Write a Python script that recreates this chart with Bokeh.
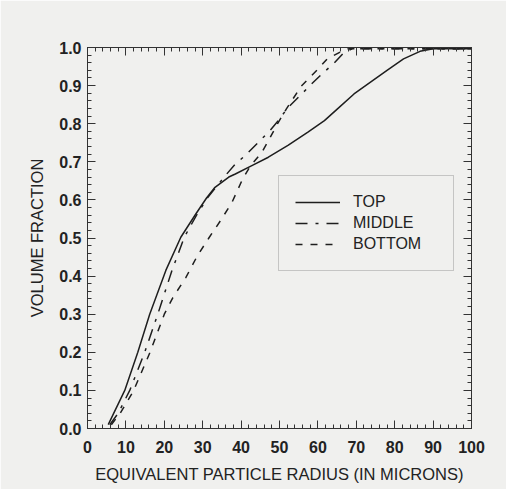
from bokeh.plotting import figure
from bokeh.models import (Range1d, LinearAxis, SingleIntervalTicker, PrintfTickFormatter,
                          CustomJSTickFormatter, Legend, LegendItem)
from bokeh.embed import file_html
from bokeh.resources import INLINE

# ---- data ----
top_x = [5.4, 9.7, 13.1, 16.2, 20.4, 24.3, 28.2, 31.0, 33.2, 36.8, 38.5, 42.8, 47.1,
         52.2, 57.4, 61.7, 65.1, 69.4, 73.7, 78.0, 82.3, 86.6, 90.0, 100.0]
top_y = [0.01, 0.10, 0.20, 0.30, 0.415, 0.502, 0.563, 0.605, 0.633, 0.66, 0.668, 0.69,
         0.712, 0.743, 0.778, 0.808, 0.839, 0.878, 0.909, 0.94, 0.97, 0.99, 0.997, 0.997]

mid_x = [5.8, 8.0, 11.0, 14.9, 18.3, 22.0, 25.2, 28.4, 31.2, 34.0, 36.0, 38.5, 41.0,
         44.5, 47.5, 50.0, 52.0, 55.7, 57.8, 61.0, 64.3, 66.8, 69.0, 100.0]
mid_y = [0.01, 0.04, 0.10, 0.20, 0.30, 0.415, 0.502, 0.56, 0.605, 0.64, 0.665, 0.694,
         0.716, 0.751, 0.782, 0.812, 0.84, 0.877, 0.899, 0.93, 0.96, 0.987, 0.997, 0.997]

bot_x = [6.2, 8.5, 11.9, 16.2, 20.0, 22.2, 25.6, 28.6, 31.6, 34.6, 37.6, 40.4, 42.5,
         45.4, 47.1, 49.5, 51.8, 55.7, 60.0, 62.5, 66.4, 68.0, 100.0]
bot_y = [0.01, 0.04, 0.097, 0.198, 0.30, 0.343, 0.396, 0.453, 0.50, 0.545, 0.593, 0.655,
         0.69, 0.725, 0.755, 0.80, 0.839, 0.899, 0.943, 0.971, 0.991, 0.997, 0.997]

series_labels = ["TOP", "MIDDLE", "BOTTOM"]
x_label = "EQUIVALENT PARTICLE RADIUS (IN MICRONS)"
y_label = "VOLUME FRACTION"

BG = "#f0f0ee"
INK = "#1e1e1e"
FONT = "Liberation Sans"

p = figure(width=506, height=489, output_backend="svg", toolbar_location=None,
           x_range=Range1d(0, 100), y_range=Range1d(0, 1.0),
           min_border_left=87, min_border_right=35, min_border_top=47, min_border_bottom=61,
           background_fill_color=BG, border_fill_color=BG)
p.grid.visible = False
p.outline_line_color = "#333333"
p.outline_line_width = 1

r_top = p.line(top_x, top_y, line_color=INK, line_width=1.5)
r_mid = p.line(mid_x, mid_y, line_color=INK, line_width=1.5, line_dash="12 8 3 8")
r_bot = p.line(bot_x, bot_y, line_color=INK, line_width=1.5, line_dash="7 8")

def style_axis(ax, labels=True):
    ax.axis_line_color = "#333333"
    ax.major_tick_in = 8
    ax.major_tick_out = 0
    ax.minor_tick_in = 4
    ax.minor_tick_out = 0
    ax.major_tick_line_color = "#333333"
    ax.minor_tick_line_color = "#333333"
    if labels:
        ax.major_label_text_font = FONT
        ax.major_label_text_font_style = "bold"
        ax.major_label_text_font_size = "16px"
        ax.major_label_text_color = "#222222"
        ax.axis_label_text_font = FONT
        ax.axis_label_text_font_style = "normal"
        ax.axis_label_text_font_size = "16.5px"
        ax.axis_label_text_color = "#222222"
    else:
        ax.formatter = CustomJSTickFormatter(code="return '';")
        ax.major_label_standoff = 0

xt = SingleIntervalTicker(interval=10, num_minor_ticks=5)
yt = SingleIntervalTicker(interval=0.1, num_minor_ticks=5)

xa = p.xaxis[0]
xa.ticker = xt
xa.axis_label = x_label
xa.major_label_standoff = 12
xa.axis_label_standoff = 9
style_axis(xa)

ya = p.yaxis[0]
ya.ticker = yt
ya.formatter = PrintfTickFormatter(format="%.1f")
ya.axis_label = y_label
ya.major_label_standoff = 6
ya.axis_label_standoff = 10
style_axis(ya)

ta = LinearAxis(ticker=SingleIntervalTicker(interval=10, num_minor_ticks=5))
style_axis(ta, labels=False)
p.add_layout(ta, "above")
ra = LinearAxis(ticker=SingleIntervalTicker(interval=0.1, num_minor_ticks=5))
style_axis(ra, labels=False)
p.add_layout(ra, "right")

legend = Legend(items=[LegendItem(label=series_labels[0], renderers=[r_top]),
                       LegendItem(label=series_labels[1], renderers=[r_mid]),
                       LegendItem(label=series_labels[2], renderers=[r_bot])],
                location=(191, 157), padding=16, spacing=1, margin=0,
                glyph_width=45, glyph_height=20, label_height=20,
                label_standoff=13, label_width=84,
                label_text_font=FONT, label_text_font_size="16px",
                label_text_color="#222222",
                border_line_color="#9a9a9a", border_line_width=1,
                background_fill_alpha=0)
p.add_layout(legend)

open("out.html", "w").write(file_html(p, INLINE))
